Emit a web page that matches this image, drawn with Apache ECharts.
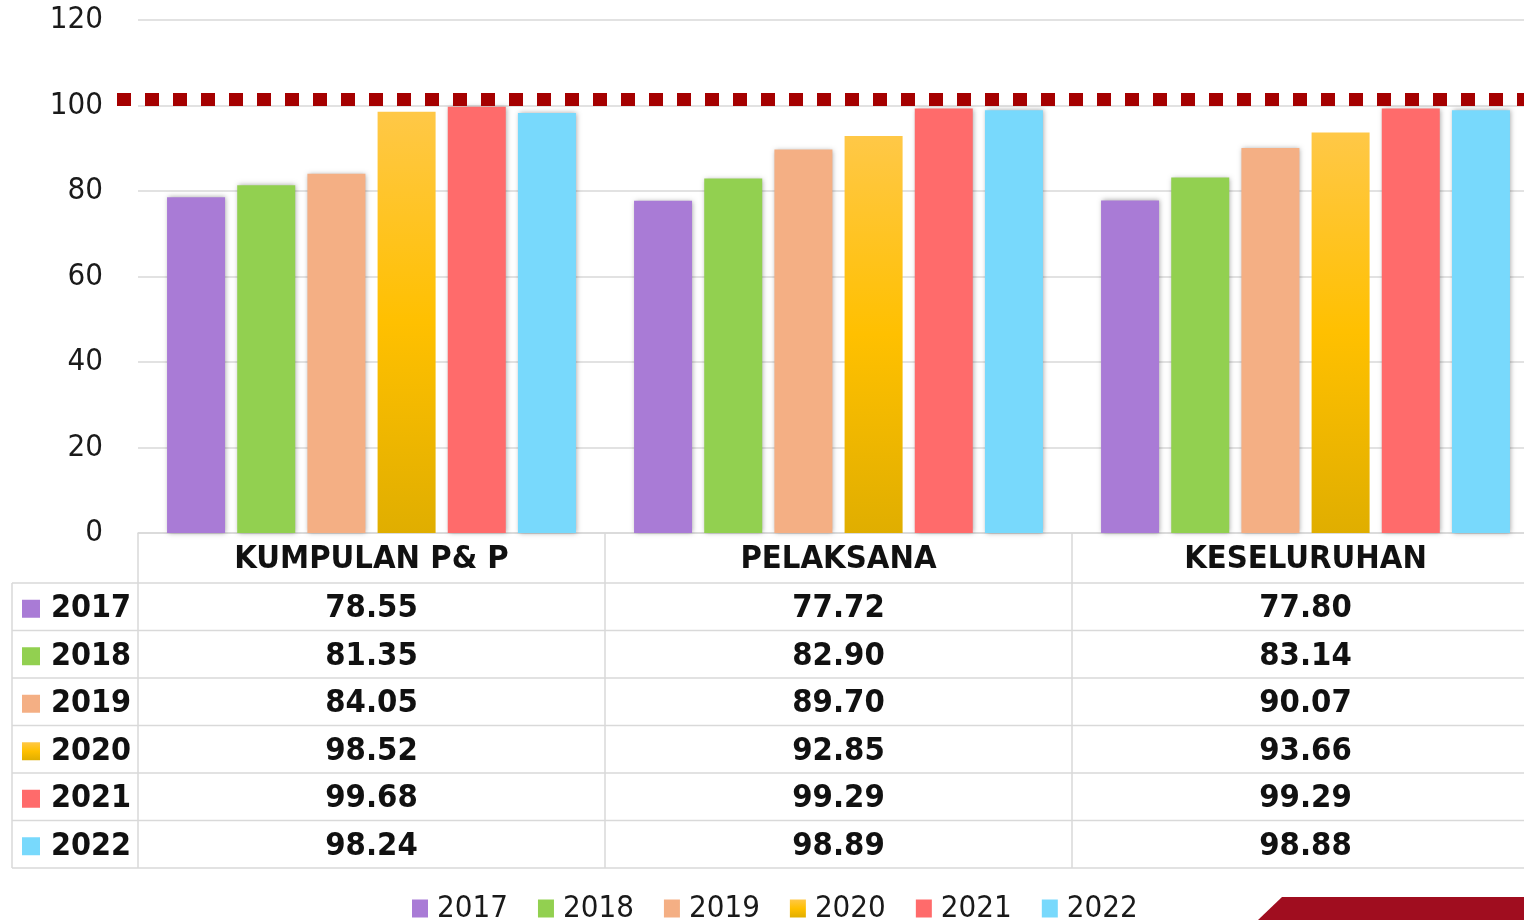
<!DOCTYPE html>
<html><head><meta charset="utf-8">
<script src="https://cdn.jsdelivr.net/npm/echarts@6/dist/echarts.min.js"></script>
<style>html,body{margin:0;padding:0;background:#fff;overflow:hidden;width:1524px;height:920px}#c{width:1539px;height:920px}</style>
</head><body><div id="c"></div>
<script>
const categories = ['KUMPULAN P& P', 'PELAKSANA', 'KESELURUHAN'];
const years = ['2017', '2018', '2019', '2020', '2021', '2022'];
const v2017 = [78.55, 77.72, 77.80];
const v2018 = [81.35, 82.90, 83.14];
const v2019 = [84.05, 89.70, 90.07];
const v2020 = [98.52, 92.85, 93.66];
const v2021 = [99.68, 99.29, 99.29];
const v2022 = [98.24, 98.89, 98.88];
const seriesValues = [v2017, v2018, v2019, v2020, v2021, v2022];
const yMin = 0, yMax = 120, yInterval = 20;
const targetLine = 101.4;

const FONT = '"DejaVu Sans Condensed", "DejaVu Sans", sans-serif';
const grad2020 = new echarts.graphic.LinearGradient(0, 0, 0, 1, [
  { offset: 0, color: '#FFC847' }, { offset: 0.5, color: '#FFC000' }, { offset: 1, color: '#E0AE00' }
]);
const colors = ['#A97BD6', '#92D050', '#F4AF84', grad2020, '#FF6B6B', '#78D9FC'];

const chart = echarts.init(document.getElementById('c'), null, { renderer: 'canvas' });
chart.setOption({
  animation: false,
  backgroundColor: '#ffffff',
  grid: { left: 138, right: 0, top: 20, height: 513, containLabel: false },
  legend: {
    data: years, left: 407, top: 888, icon: 'rect', itemWidth: 16, itemHeight: 18, itemGap: 30,
    textStyle: { fontFamily: FONT, fontSize: 31, color: '#1a1a1a', padding: [0, 0, 0, 4] }
  },
  xAxis: {
    type: 'category', data: categories,
    axisLine: { show: true, lineStyle: { color: '#D9D9D9', width: 1.5 } },
    axisTick: { show: false },
    axisLabel: { fontFamily: FONT, fontWeight: 'bold', fontSize: 32.5, color: '#111', margin: 10, lineHeight: 34 }
  },
  yAxis: {
    type: 'value', min: yMin, max: yMax, interval: yInterval,
    axisLine: { show: false }, axisTick: { show: false },
    axisLabel: { fontFamily: FONT, fontSize: 31, color: '#1a1a1a', margin: 35, padding: [12, 0, 0, 0] },
    splitLine: { lineStyle: { color: '#D9D9D9', width: 1.5 } }
  },
  series: years.map((y, i) => ({
    name: y, type: 'bar', data: seriesValues[i], barWidth: 58, barGap: '21%',
    itemStyle: { color: colors[i], shadowBlur: 5, shadowColor: 'rgba(0,0,0,0.35)', shadowOffsetX: 1, shadowOffsetY: 0 }
  }))
});

function buildTable() {
  const px = i => chart.convertToPixel({ xAxisIndex: 0 }, categories[i]);
  const band = px(1) - px(0);
  const yLine = chart.convertToPixel({ yAxisIndex: 0 }, targetLine);
  const yBase = chart.convertToPixel({ yAxisIndex: 0 }, yMin);
  const headerH = 50, rowH = 47.5, leftX = 12, rightX = 1539;
  const tableTop = yBase + headerH;
  const tableBottom = tableTop + rowH * years.length;
  const g = [];
  const stroke = { stroke: '#D9D9D9', lineWidth: 1.5 };
  g.push({ type: 'line', shape: { x1: 117, y1: yLine, x2: rightX, y2: yLine },
    style: { stroke: '#A50000', lineWidth: 13, lineDash: [14, 14] }, z: 10 });
  for (let r = 0; r <= years.length; r++) {
    const yy = tableTop + r * rowH;
    g.push({ type: 'line', shape: { x1: leftX, y1: yy, x2: rightX, y2: yy }, style: stroke });
  }
  g.push({ type: 'line', shape: { x1: leftX, y1: tableTop, x2: leftX, y2: tableBottom }, style: stroke });
  for (let i = 0; i < categories.length; i++) {
    const xb = px(i) - band / 2;
    g.push({ type: 'line', shape: { x1: xb, y1: yBase, x2: xb, y2: tableBottom }, style: stroke });
  }
  years.forEach((y, r) => {
    const cy = tableTop + r * rowH + rowH / 2 + 2;
    g.push({ type: 'rect', shape: { x: 22, y: cy - 9, width: 18, height: 18 }, style: { fill: colors[r] } });
    g.push({ type: 'text', x: 51, y: cy, style: { text: y, font: 'bold 32px ' + FONT, fill: '#111', align: 'left', verticalAlign: 'middle' } });
    seriesValues[r].forEach((v, c) => {
      g.push({ type: 'text', x: px(c), y: cy, style: { text: v.toFixed(2), font: 'bold 32.5px ' + FONT, fill: '#111', align: 'center', verticalAlign: 'middle' } });
    });
  });
  g.push({ type: 'polygon', shape: { points: [[1258, 920], [1282, 897], [1539, 897], [1539, 920]] }, style: { fill: '#A00D1F' } });
  chart.setOption({ graphic: g });
}
buildTable();
</script>
</body></html>
